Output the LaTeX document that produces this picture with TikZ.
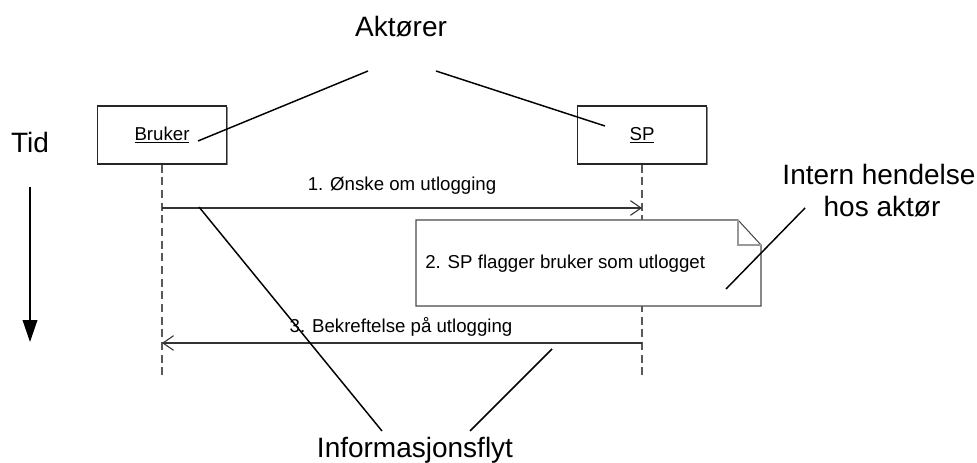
\documentclass[tikz,border=0pt]{standalone}
\usepackage{fontspec}
\setmainfont{Liberation Sans}
\usetikzlibrary{arrows.meta,shadows,calc}
\begin{document}
\begin{tikzpicture}[x=0.75pt,y=-0.75pt,
  big/.style={font=\fontsize{21}{25}\selectfont, inner sep=0pt, anchor=base},
  small/.style={font=\fontsize{14}{17}\selectfont, inner sep=0pt, anchor=base},
  actor/.style={draw=black!85, line width=0.8pt, fill=white,
    minimum width=96.75pt, minimum height=43.5pt, inner sep=0pt,
    font=\fontsize{14}{17}\selectfont,
    drop shadow={shadow xshift=0.9pt, shadow yshift=-0.9pt, fill=black!45, opacity=1}},
  lifeline/.style={draw=black!65, line width=0.9pt, dash pattern=on 6pt off 3.5pt},
  msg/.style={draw=black!80, line width=0.8pt,
    -{Straight Barb[length=8pt,width=11pt,line width=0.8pt]}},
  pointer/.style={draw=black, line width=1.1pt},
]
\useasboundingbox (0,0) rectangle (977,463);
\fill[white] (0,0) rectangle (977,463);

% actors
\node[actor] (bruker) at (162,135) {\underline{Bruker}};
\node[actor] (sp) at (642,135) {\underline{SP}};

% lifelines
\coordinate (bend) at (162,377);
\coordinate (spend) at (642,377);
\draw[lifeline] (bruker.south) -- (bend);
\draw[lifeline] (sp.south) -- (spend);

% internal event note with folded corner
\coordinate (nNW) at (416,220);
\coordinate (nSE) at (761,306);
\coordinate (fA) at (738,220);
\coordinate (fB) at (761,245);
\begin{scope}[shift={(1.3,1.3)}]
  \fill[black!45] (nNW) -- (fA) -- (fB) -- (nSE) -- (nNW |- nSE) -- cycle;
\end{scope}
\filldraw[fill=white, draw=black!70, line width=0.8pt]
  (nNW) -- (fA) -- (fB) -- (nSE) -- (nNW |- nSE) -- cycle;
\draw[black!40, line width=0.8pt] (fA) -- (fA |- fB) -- (fB);
\node[small, anchor=base west] (notetext) at (425,268) {2. SP flagger bruker som utlogget};

% messages
\coordinate (m1s) at (162,208);
\coordinate (m1e) at (642,208);
\draw[msg] (m1s) -- (m1e);
\node[small] (m1) at (402,191) {1. Ønske om utlogging};

\coordinate (m3s) at (642,343);
\coordinate (m3e) at (162,343);
\draw[msg] (m3s) -- (m3e);
\node[small] (m3) at (401,332) {3. Bekreftelse på utlogging};

% time axis
\node[big] (tid) at (30,153) {Tid};
\coordinate (t0) at (30,187);
\coordinate (t1) at (30,342);
\draw[line width=1.1pt, -{Triangle[length=16.5pt,width=11pt]}] (t0) -- (t1);

% labels with pointers
\node[big] (akt) at (401,37) {Aktører};
\coordinate (aktL) at (368,71);
\coordinate (aktR) at (436,71);
\coordinate (toBruker) at (198,141);
\coordinate (toSP) at (605,126);
\draw[pointer] (aktL) -- (toBruker);
\draw[pointer] (aktR) -- (toSP);

\node[big] (intern1) at (879,185) {Intern hendelse};
\node[big] (intern2) at (882,217) {hos aktør};
\coordinate (intFrom) at (805,208);
\coordinate (intTo) at (726,289);
\draw[pointer] (intFrom) -- (intTo);

\node[big] (info) at (415,457) {Informasjonsflyt};
\coordinate (infoL) at (382,431);
\coordinate (infoR) at (470,431);
\coordinate (onM1) at (199,207);
\coordinate (onM3) at (552,349);
\draw[pointer] (onM1) -- (infoL);
\draw[pointer] (onM3) -- (infoR);
\end{tikzpicture}
\end{document}
